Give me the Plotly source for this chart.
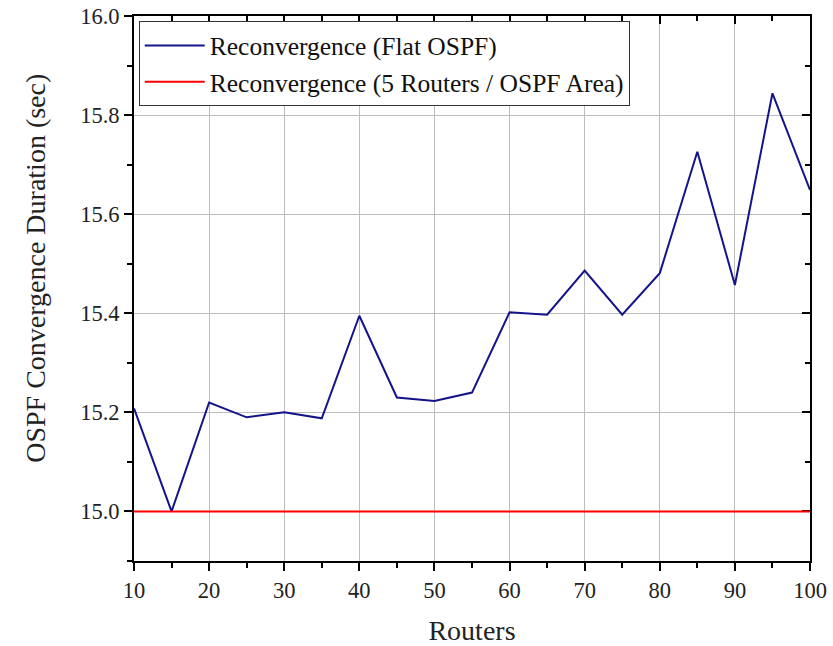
import plotly.graph_objects as go

routers = [10, 15, 20, 25, 30, 35, 40, 45, 50, 55, 60, 65, 70, 75, 80, 85, 90, 95, 100]
flat_ospf = [15.208, 15.0, 15.22, 15.19, 15.20, 15.188, 15.395, 15.23, 15.223, 15.24,
             15.402, 15.397, 15.486, 15.397, 15.481, 15.726, 15.457, 15.844, 15.649]
area_ospf = [15.0] * len(routers)

x_ticks = [10, 20, 30, 40, 50, 60, 70, 80, 90, 100]
y_ticks = [15.0, 15.2, 15.4, 15.6, 15.8, 16.0]

FONT = "Liberation Serif, Times New Roman, serif"

fig = go.Figure()
fig.add_trace(go.Scatter(x=routers, y=flat_ospf, mode="lines",
                         name="Reconvergence (Flat OSPF)",
                         line=dict(color="#14148a", width=2)))
fig.add_trace(go.Scatter(x=routers, y=area_ospf, mode="lines",
                         name="Reconvergence (5 Routers / OSPF Area)",
                         line=dict(color="#ff0000", width=2)))

common_x = dict(range=[10, 100], tickvals=x_ticks, ticklen=8, tickwidth=2,
                tickcolor="black", linecolor="black", linewidth=2, automargin=False,
                minor=dict(dtick=5, tick0=0, ticklen=5, tickwidth=2, tickcolor="black",
                           ticks="outside", showgrid=False))
common_y = dict(range=[14.9, 16.0], tickvals=y_ticks, ticklen=8, tickwidth=2,
                tickcolor="black", linecolor="black", linewidth=2, automargin=False,
                minor=dict(dtick=0.1, tick0=0, ticklen=5, tickwidth=2, tickcolor="black",
                           ticks="outside", showgrid=False))

fig.update_layout(
    width=833, height=646,
    margin=dict(l=134, r=23, t=16, b=85),
    paper_bgcolor="white", plot_bgcolor="white",
    font=dict(family=FONT, size=23, color="#222222"),
    showlegend=True,
    legend=dict(x=0.007, y=0.99, xanchor="left", yanchor="top",
                bgcolor="white", bordercolor="#333333", borderwidth=1,
                font=dict(family=FONT, size=25.5, color="#111111"),
                tracegroupgap=0, itemwidth=60),
    xaxis=dict(**common_x, ticks="outside", showgrid=True, gridcolor="#bdbdbd",
               gridwidth=1, zeroline=False, showline=True,
               title=dict(text="Routers", font=dict(family=FONT, size=28), standoff=19),
               tickfont=dict(family=FONT, size=22.5)),
    yaxis=dict(**common_y, ticks="outside", showgrid=True, gridcolor="#bdbdbd",
               gridwidth=1, zeroline=False, showline=True, tickformat=".1f",
               tickfont=dict(family=FONT, size=22.5)),
    xaxis2=dict(range=[10, 100], tickvals=x_ticks, ticks="inside", ticklen=8, tickwidth=2,
                tickcolor="black", linecolor="black", linewidth=2, showline=True,
                overlaying="x", side="top", showticklabels=False, showgrid=False,
                zeroline=False, layer="below traces", automargin=False,
                minor=dict(dtick=5, tick0=0, ticklen=5, tickwidth=2, tickcolor="black",
                           ticks="inside", showgrid=False)),
    yaxis2=dict(range=[14.9, 16.0], tickvals=y_ticks, ticks="inside", ticklen=8, tickwidth=2,
                tickcolor="black", linecolor="black", linewidth=2, showline=True,
                overlaying="y", side="right", showticklabels=False, showgrid=False,
                zeroline=False, layer="below traces", automargin=False,
                minor=dict(dtick=0.1, tick0=0, ticklen=5, tickwidth=2, tickcolor="black",
                           ticks="inside", showgrid=False)),
)

# y-axis title as rotated annotation (positioned like the reference)
fig.add_annotation(text="OSPF Convergence Duration (sec)", xref="paper", yref="paper",
                   x=-0.145, y=0.538, xanchor="center", yanchor="middle",
                   textangle=-90, showarrow=False,
                   font=dict(family=FONT, size=28, color="#222222"))

# invisible trace to activate the mirrored axes
fig.add_trace(go.Scatter(x=[routers[0]], y=[area_ospf[0]], xaxis="x2", yaxis="y2",
                         mode="markers", marker=dict(opacity=0), showlegend=False,
                         hoverinfo="skip"))

fig.write_html("out.html")
